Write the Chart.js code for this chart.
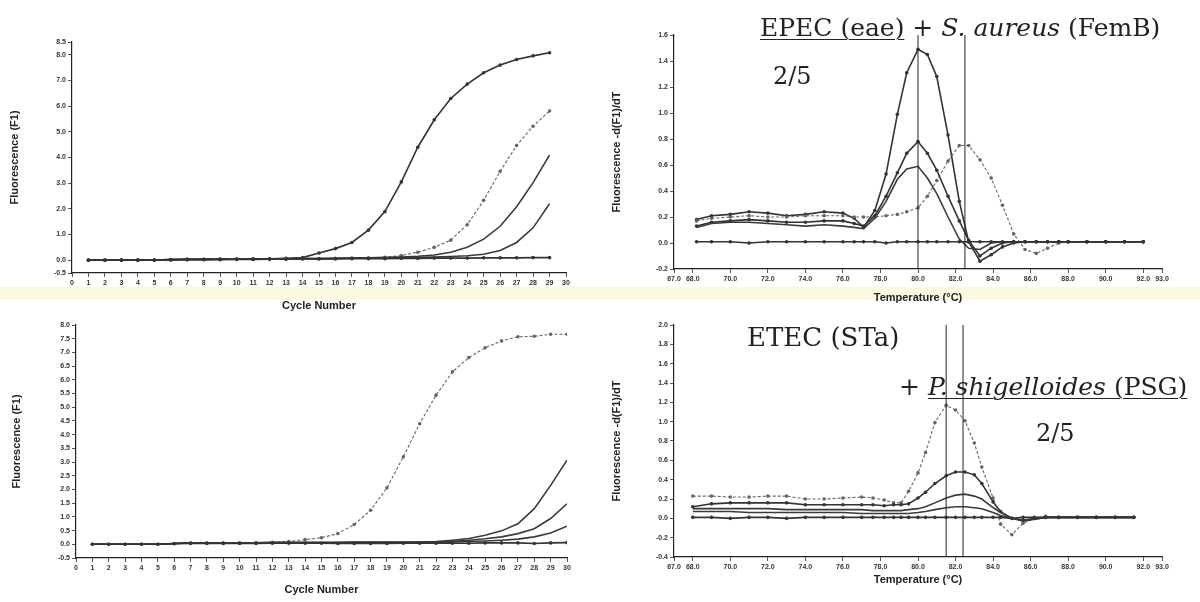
<!DOCTYPE html>
<html>
<head>
<meta charset="utf-8">
<script src="https://cdn.jsdelivr.net/npm/chart.js@4.4.1/dist/chart.umd.min.js"></script>
<style>
  body { margin: 0; width: 1200px; height: 602px; background: #fff; position: relative; overflow: hidden; }
  canvas { position: absolute; }
  .band { position: absolute; left: 0; top: 287px; width: 1200px; height: 13px; background: #fcf9e3; }
  .note { position: absolute; font-family: 'DejaVu Serif', 'Liberation Serif', serif; color: #222; white-space: nowrap; line-height: 1.15; }
  .ul { text-decoration: underline; text-decoration-thickness: 1px; text-underline-offset: 3px; }
</style>
</head>
<body>
<div class="band"></div>
<canvas id="ampTop" width="600" height="316" style="left:0;top:0"></canvas>
<canvas id="meltTop" width="600" height="316" style="left:600px;top:0"></canvas>
<canvas id="ampBot" width="600" height="286" style="left:0;top:316px"></canvas>
<canvas id="meltBot" width="600" height="286" style="left:600px;top:316px"></canvas>

<div class="note" style="left:760px;top:14px;font-size:25px"><span class="ul">EPEC (eae)</span> + <i>S. aureus</i> (FemB)</div>
<div class="note" style="left:773px;top:63px;font-size:24px">2/5</div>
<div class="note" style="left:747px;top:323px;font-size:26px">ETEC (STa)</div>
<div class="note" style="left:899px;top:373px;font-size:25px">+ <span class="ul"><i>P. shigelloides</i> (PSG)</span></div>
<div class="note" style="left:1036px;top:420px;font-size:24px">2/5</div>

<script>
// amplification curves, top (cycles 1-29) and bottom (cycles 1-30)
const cyclesTop = [1,2,3,4,5,6,7,8,9,10,11,12,13,14,15,16,17,18,19,20,21,22,23,24,25,26,27,28,29];
const ampTopA = [0.00,0.00,0.00,0.00,0.00,0.02,0.03,0.03,0.04,0.04,0.05,0.05,0.07,0.10,0.28,0.45,0.69,1.17,1.89,3.05,4.40,5.47,6.30,6.86,7.30,7.60,7.82,7.96,8.08];
const ampTopB = [0.00,0.00,0.00,0.00,0.00,0.02,0.03,0.03,0.04,0.04,0.04,0.05,0.05,0.06,0.06,0.07,0.08,0.09,0.11,0.18,0.31,0.50,0.78,1.38,2.33,3.46,4.47,5.22,5.81];
const ampTopC = [0.00,0.00,0.00,0.00,0.00,0.02,0.03,0.03,0.04,0.04,0.04,0.05,0.05,0.06,0.06,0.07,0.08,0.09,0.10,0.12,0.15,0.20,0.31,0.50,0.82,1.32,2.08,3.02,4.09];
const ampTopD = [0.00,0.00,0.00,0.00,0.00,0.02,0.03,0.03,0.04,0.04,0.04,0.05,0.05,0.06,0.06,0.07,0.08,0.09,0.10,0.10,0.11,0.12,0.14,0.17,0.23,0.38,0.69,1.26,2.20];
const ampTopE = [0.00,0.00,0.00,0.00,0.00,0.01,0.02,0.02,0.02,0.03,0.03,0.04,0.04,0.05,0.05,0.05,0.06,0.06,0.06,0.07,0.07,0.08,0.08,0.08,0.09,0.09,0.09,0.10,0.10];

const cyclesBot = [1,2,3,4,5,6,7,8,9,10,11,12,13,14,15,16,17,18,19,20,21,22,23,24,25,26,27,28,29,30];
const ampBotA = [0.00,0.00,0.00,0.00,0.00,0.03,0.05,0.05,0.05,0.05,0.06,0.07,0.10,0.17,0.24,0.39,0.72,1.24,2.06,3.19,4.40,5.44,6.29,6.81,7.17,7.42,7.57,7.59,7.66,7.66];
const ampBotB = [0.00,0.00,0.00,0.00,0.00,0.03,0.05,0.05,0.05,0.05,0.05,0.06,0.06,0.06,0.06,0.06,0.07,0.07,0.07,0.07,0.08,0.10,0.15,0.21,0.33,0.49,0.75,1.30,2.15,3.07];
const ampBotC = [0.00,0.00,0.00,0.00,0.00,0.03,0.05,0.05,0.05,0.05,0.05,0.06,0.06,0.06,0.06,0.06,0.07,0.07,0.07,0.07,0.07,0.08,0.10,0.15,0.20,0.27,0.39,0.57,0.94,1.48];
const ampBotD = [0.00,0.00,0.00,0.00,0.00,0.03,0.05,0.05,0.05,0.05,0.05,0.06,0.06,0.06,0.06,0.06,0.07,0.07,0.07,0.07,0.07,0.08,0.09,0.10,0.12,0.15,0.19,0.27,0.41,0.66];
const ampBotE = [0.00,0.00,0.00,0.00,0.00,0.02,0.03,0.03,0.03,0.03,0.03,0.04,0.04,0.04,0.04,0.03,0.03,0.03,0.03,0.04,0.04,0.04,0.04,0.04,0.05,0.05,0.05,0.03,0.05,0.06];

// melting peaks, -d(F1)/dT
const meltTempsTop = [68.2,69.0,70.0,71.0,72.0,73.0,74.0,75.0,76.0,76.6,77.1,77.7,78.3,78.9,79.4,80.0,80.5,81.0,81.6,82.2,82.7,83.3,83.9,84.5,85.1,85.7,86.3,86.9,87.5,88.0,89.0,90.0,91.0,92.0];
const meltTopA = [0.18,0.21,0.22,0.24,0.23,0.21,0.22,0.24,0.23,0.19,0.12,0.25,0.53,0.99,1.31,1.49,1.45,1.28,0.83,0.32,0.01,-0.14,-0.09,-0.03,0.00,0.01,0.01,0.01,0.01,0.01,0.01,0.01,0.01,0.01];
const meltTopB = [0.13,0.16,0.17,0.18,0.17,0.16,0.16,0.17,0.17,0.15,0.13,0.21,0.36,0.54,0.69,0.78,0.69,0.56,0.36,0.17,0.02,-0.10,-0.04,0.00,0.01,0.01,0.01,0.01,0.01,0.01,0.01,0.01,0.01,0.01];
const meltTopC = [0.12,0.15,0.16,0.16,0.15,0.14,0.13,0.14,0.13,0.12,0.11,0.19,0.32,0.49,0.57,0.59,0.50,0.38,0.20,0.03,-0.04,-0.05,0.00,0.01,0.01,0.01,0.01,0.01,0.01,0.01,0.01,0.01,0.01,0.01];
const meltTopD = [0.17,0.19,0.20,0.21,0.20,0.20,0.21,0.21,0.21,0.20,0.20,0.20,0.21,0.22,0.24,0.27,0.36,0.48,0.63,0.75,0.75,0.64,0.50,0.29,0.07,-0.05,-0.08,-0.04,0.00,0.01,0.01,0.01,0.01,0.01];
const meltTopE = [0.01,0.01,0.01,0.00,0.01,0.01,0.01,0.01,0.01,0.01,0.01,0.01,0.00,0.01,0.01,0.01,0.01,0.01,0.01,0.01,0.01,0.01,0.01,0.01,0.01,0.01,0.01,0.01,0.01,0.01,0.01,0.01,0.01,0.01];
const meltMarksTop = [80.0, 82.5];

const meltTempsBot = [68.0,69.0,70.0,71.0,72.0,73.0,74.0,75.0,76.0,77.0,77.6,78.2,78.7,79.1,79.5,80.0,80.4,80.9,81.5,82.0,82.5,83.0,83.4,84.0,84.4,85.0,85.6,86.2,86.8,87.5,88.5,89.5,90.5,91.5];
const meltBotA = [0.23,0.23,0.22,0.22,0.23,0.23,0.20,0.20,0.21,0.22,0.21,0.19,0.16,0.16,0.28,0.47,0.68,0.99,1.17,1.12,1.01,0.78,0.53,0.21,-0.06,-0.17,-0.05,0.00,0.02,0.01,0.01,0.01,0.01,0.01];
const meltBotB = [0.12,0.15,0.16,0.16,0.16,0.16,0.14,0.14,0.14,0.14,0.14,0.13,0.14,0.14,0.15,0.21,0.27,0.36,0.44,0.48,0.48,0.45,0.36,0.17,0.07,0.00,-0.02,0.00,0.01,0.01,0.01,0.01,0.01,0.01];
const meltBotC = [0.10,0.10,0.10,0.10,0.10,0.09,0.09,0.09,0.09,0.09,0.08,0.08,0.08,0.08,0.09,0.10,0.12,0.16,0.21,0.24,0.25,0.23,0.20,0.11,0.06,0.00,-0.03,-0.01,0.01,0.01,0.01,0.01,0.01,0.01];
const meltBotD = [0.07,0.07,0.07,0.06,0.06,0.06,0.06,0.06,0.06,0.05,0.05,0.05,0.05,0.05,0.05,0.06,0.07,0.09,0.11,0.12,0.12,0.11,0.10,0.06,0.03,0.00,-0.02,-0.01,0.01,0.01,0.01,0.01,0.01,0.01];
const meltBotE = [0.01,0.01,0.00,0.01,0.01,0.00,0.01,0.01,0.01,0.01,0.01,0.01,0.01,0.01,0.01,0.01,0.01,0.01,0.01,0.01,0.01,0.01,0.01,0.01,0.01,0.00,0.01,0.01,0.01,0.01,0.01,0.01,0.01,0.01];
const meltMarksBot = [81.5, 82.4];

// tick labels
const cycleTicks = [0,1,2,3,4,5,6,7,8,9,10,11,12,13,14,15,16,17,18,19,20,21,22,23,24,25,26,27,28,29,30];
const ampTopYTicks = [-0.5,0,1,2,3,4,5,6,7,8,8.5];
const ampBotYTicks = [-0.5,0,0.5,1,1.5,2,2.5,3,3.5,4,4.5,5,5.5,6,6.5,7,7.5,8];
const meltXTicks = [67,68,70,72,74,76,78,80,82,84,86,88,90,92,93];
const meltTopYTicks = [-0.2,0,0.2,0.4,0.6,0.8,1.0,1.2,1.4,1.6];
const meltBotYTicks = [-0.4,-0.2,0,0.2,0.4,0.6,0.8,1.0,1.2,1.4,1.6,1.8,2.0];

const tickFont = { family: 'Liberation Sans', size: 7, weight: 'bold' };
const titleFont = { family: 'Liberation Sans', size: 11, weight: 'bold', lineHeight: 1.2 };

const series = (xs, ys, style) => ({
    data: xs.map((x, i) => ({ x: x, y: ys[i] })),
    borderColor: style.color || '#333',
    borderWidth: style.width || 1.5,
    borderDash: style.dash || [],
    pointRadius: style.dot === undefined ? 1.8 : style.dot,
    pointBackgroundColor: style.color || '#333',
    pointBorderWidth: 0,
    tension: 0
});

const markLines = (temps, yMin, yMax) => temps.map(t => ({
    data: [{ x: t, y: yMin }, { x: t, y: yMax }],
    borderColor: '#222',
    borderWidth: 1,
    pointRadius: 0
}));

const makeChart = (id, datasets, cfg) => {
    new Chart(document.getElementById(id), {
        type: 'line',
        data: { datasets: datasets },
        options: {
            responsive: false,
            animation: false,
            layout: { padding: { top: cfg.top, right: cfg.right, left: 0, bottom: 0 } },
            plugins: { legend: { display: false }, tooltip: { enabled: false } },
            scales: {
                x: {
                    type: 'linear',
                    min: cfg.xTicks[0],
                    max: cfg.xTicks[cfg.xTicks.length - 1],
                    afterBuildTicks: (s) => { s.ticks = cfg.xTicks.map(v => ({ value: v })); },
                    afterFit: (s) => { s.height = cfg.xHeight; },
                    grid: { drawOnChartArea: false, tickLength: 4, color: '#555' },
                    border: { color: '#222', width: 1.2 },
                    ticks: { font: tickFont, color: '#333', maxRotation: 0, autoSkip: false, padding: 2,
                        callback: (v) => cfg.xFixed ? v.toFixed(1) : String(v) },
                    title: { display: true, text: cfg.xTitle, font: titleFont, color: '#222',
                        padding: { top: 0, bottom: cfg.xTitlePad } }
                },
                y: {
                    min: cfg.yTicks[0],
                    max: cfg.yTicks[cfg.yTicks.length - 1],
                    afterBuildTicks: (s) => { s.ticks = cfg.yTicks.map(v => ({ value: v })); },
                    afterFit: (s) => { s.width = cfg.yWidth; },
                    grid: { drawOnChartArea: false, tickLength: 4, color: '#555' },
                    border: { color: '#222', width: 1.2 },
                    ticks: { font: tickFont, color: '#333', padding: 2, callback: (v) => v.toFixed(1) },
                    title: { display: true, text: cfg.yTitle, font: titleFont, color: '#222',
                        padding: { top: cfg.yTitlePad, bottom: 0 } }
                }
            }
        }
    });
};

const dark = { color: '#333', width: 1.6 };
const dashed = { color: '#666', width: 1.1, dash: [3, 2] };
const plain = { color: '#3a3a3a', width: 1.6, dot: 0 };

makeChart('ampTop', [
    series(cyclesTop, ampTopE, dark),
    series(cyclesTop, ampTopD, plain),
    series(cyclesTop, ampTopC, plain),
    series(cyclesTop, ampTopB, dashed),
    series(cyclesTop, ampTopA, dark)
], { top: 42, right: 34, yWidth: 72, xHeight: 43, xTicks: cycleTicks, yTicks: ampTopYTicks,
    xTitle: 'Cycle Number', yTitle: 'Fluorescence (F1)', xTitlePad: 3.4, yTitlePad: 8.4 });

makeChart('ampBot', [
    series(cyclesBot, ampBotE, dark),
    series(cyclesBot, ampBotD, plain),
    series(cyclesBot, ampBotC, plain),
    series(cyclesBot, ampBotB, plain),
    series(cyclesBot, ampBotA, dashed)
], { top: 9, right: 33, yWidth: 76, xHeight: 44, xTicks: cycleTicks, yTicks: ampBotYTicks,
    xTitle: 'Cycle Number', yTitle: 'Fluorescence (F1)', xTitlePad: 5.4, yTitlePad: 10.4 });

makeChart('meltTop', [
    ...markLines(meltMarksTop, -0.2, 1.6),
    series(meltTempsTop, meltTopE, dark),
    series(meltTempsTop, meltTopC, plain),
    series(meltTempsTop, meltTopB, dark),
    series(meltTempsTop, meltTopD, dashed),
    series(meltTempsTop, meltTopA, dark)
], { top: 35, right: 38, yWidth: 74, xHeight: 47, xTicks: meltXTicks, yTicks: meltTopYTicks, xFixed: true,
    xTitle: 'Temperature (°C)', yTitle: 'Fluorescence -d(F1)/dT', xTitlePad: 11.4, yTitlePad: 10.4 });

makeChart('meltBot', [
    ...markLines(meltMarksBot, -0.4, 2.0),
    series(meltTempsBot, meltBotE, dark),
    series(meltTempsBot, meltBotD, plain),
    series(meltTempsBot, meltBotC, plain),
    series(meltTempsBot, meltBotB, dark),
    series(meltTempsBot, meltBotA, dashed)
], { top: 9, right: 38, yWidth: 74, xHeight: 45, xTicks: meltXTicks, yTicks: meltBotYTicks, xFixed: true,
    xTitle: 'Temperature (°C)', yTitle: 'Fluorescence -d(F1)/dT', xTitlePad: 15.4, yTitlePad: 10.4 });
</script>
</body>
</html>
